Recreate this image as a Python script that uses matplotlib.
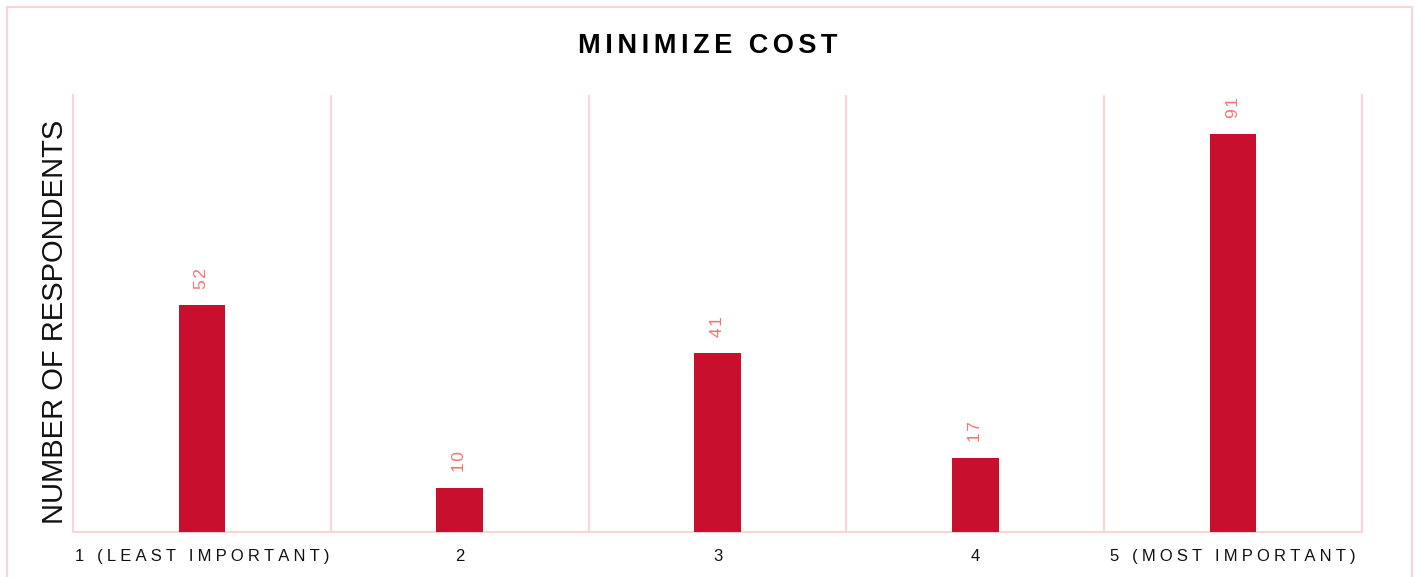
import matplotlib
matplotlib.use("Agg")
import matplotlib.pyplot as plt
from matplotlib.patches import Rectangle

categories = ["1 (LEAST IMPORTANT)", "2", "3", "4", "5 (MOST IMPORTANT)"]
respondents = [52, 10, 41, 17, 91]

title = "MINIMIZE COST"
ylabel = "NUMBER OF RESPONDENTS"

BAR_COLOR = "#C8102E"
LABEL_COLOR = "#FF7070"
GRID_COLOR = "#FFD3D3"

plt.rcParams["font.family"] = ["Liberation Sans", "DejaVu Sans"]


def spaced(text, gap):
    """Fake letter spacing by putting a narrow space between characters."""
    return gap.join(text)


fig = plt.figure(figsize=(14.15, 5.77), dpi=100)
ax = fig.add_axes([73 / 1415, 45 / 577, (1362 - 73) / 1415, (532 - 95) / 577])

x = list(range(len(categories)))
ax.bar(x, respondents, width=0.18, color=BAR_COLOR, zorder=3)

for xi, v in zip(x, respondents):
    ax.annotate(spaced(str(v), "\u200a"), (xi, v), xytext=(0, 11.5),
                textcoords="offset points", rotation=90, ha="center",
                va="bottom", color=LABEL_COLOR, fontsize=12.5)

ax.set_xlim(-0.5, len(categories) - 0.5)
ax.set_ylim(0, 100)
ax.set_xticks(x)
ax.set_xticklabels([spaced(c, "\u2005") for c in categories], fontsize=12,
                   color="#111111")
ax.tick_params(axis="x", length=0, pad=12)
ax.set_yticks([])

# category separators
for b in [i + 0.5 for i in x[:-1]]:
    ax.axvline(b, color=GRID_COLOR, lw=1.5, zorder=1)

for side in ["left", "right", "bottom"]:
    ax.spines[side].set_color(GRID_COLOR)
    ax.spines[side].set_linewidth(1.5)
ax.spines["top"].set_visible(False)

ax.set_ylabel(ylabel, fontsize=21, color="#111111")
ax.yaxis.set_label_coords(-0.003, 0.48)
fig.text(0.5, 1 - 46 / 577, spaced(title, "\u2006"), ha="center", va="center",
         fontsize=19.5, fontweight="bold", color="#000000")

# outer frame
fig.patches.append(Rectangle((7 / 1415, -0.05), 1405 / 1415, 1.05 - 7 / 577,
                             transform=fig.transFigure, fill=False,
                             edgecolor=GRID_COLOR, lw=1.5))

fig.savefig("out.png", dpi=100)
